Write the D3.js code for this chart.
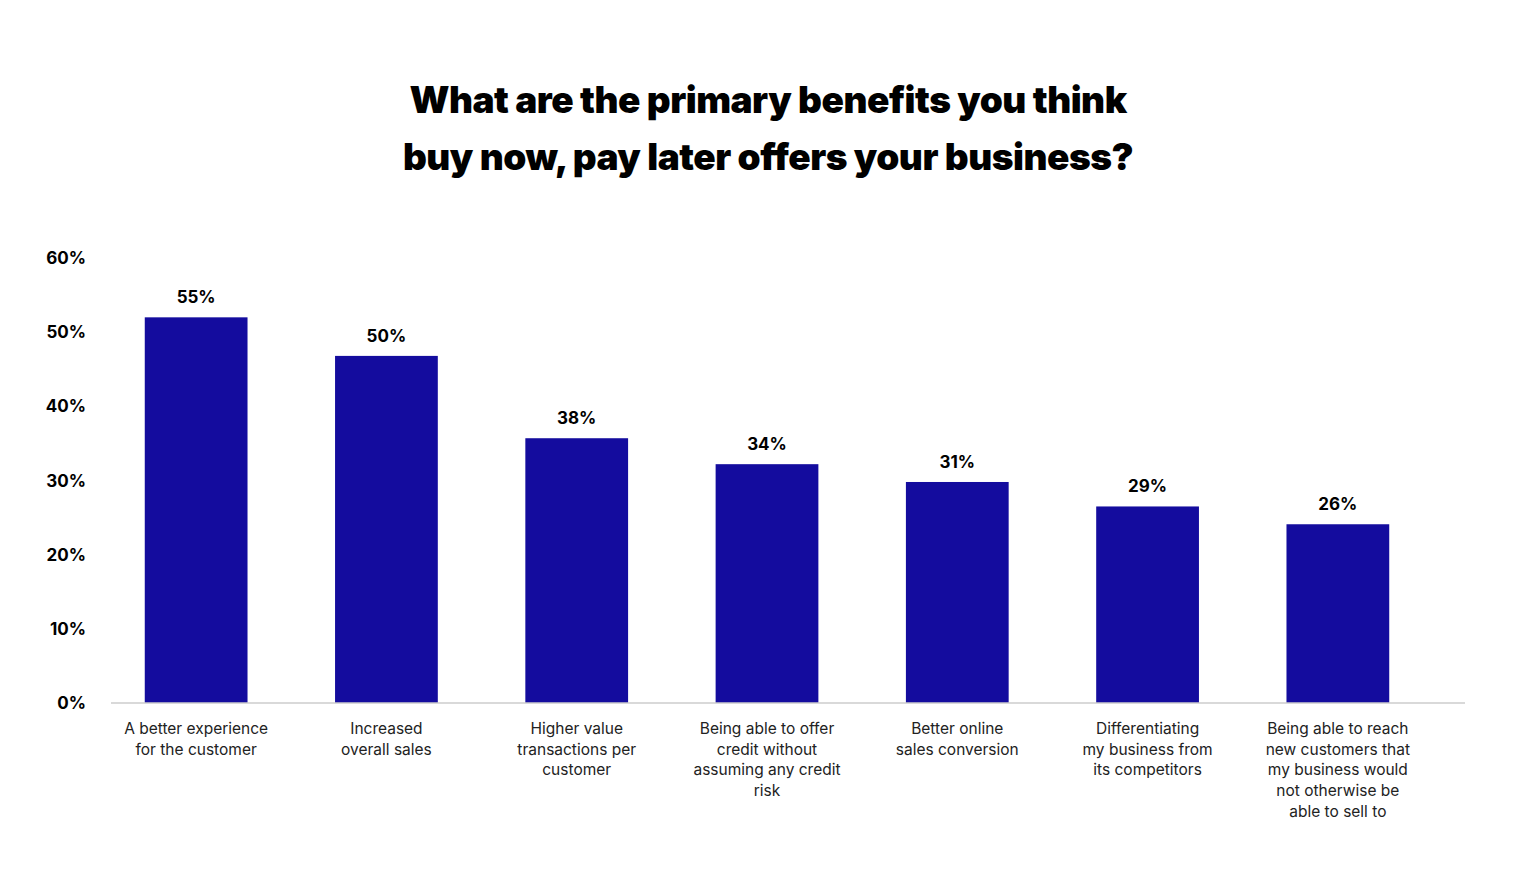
<!DOCTYPE html>
<html><head><meta charset="utf-8">
<script src="https://cdn.jsdelivr.net/npm/d3@7"></script>
<style>body{margin:0;background:#fff;font-family:Inter,"Open Sans",sans-serif}</style>
</head><body><svg id="c" width="1536" height="879"></svg>
<script>
const categories = [
  ["A better experience","for the customer"],
  ["Increased","overall sales"],
  ["Higher value","transactions per","customer"],
  ["Being able to offer","credit without","assuming any credit","risk"],
  ["Better online","sales conversion"],
  ["Differentiating","my business from","its competitors"],
  ["Being able to reach","new customers that","my business would","not otherwise be","able to sell to"]
];
const labels = ["55%","50%","38%","34%","31%","29%","26%"];
const barHeights = [52.0, 46.8, 35.7, 32.2, 29.8, 26.5, 24.1];
const yTicks = [0,10,20,30,40,50,60];

const svg = d3.select("#c");
const x = d3.scaleBand().domain(d3.range(categories.length)).range([101,1433]).paddingInner(0.46).paddingOuter(0.23);
const y = d3.scaleLinear().domain([0,60]).range([703,258]);

svg.append("text").attr("x",768).attr("text-anchor","middle").attr("font-size",37).attr("font-weight",900)
  .attr("font-family","Inter, sans-serif").attr("letter-spacing","-0.5")
  .selectAll("tspan").data(["What are the primary benefits you think","buy now, pay later offers your business?"])
  .join("tspan").attr("x",768).attr("y",(d,i)=>113+i*57).text(d=>d);

svg.append("g").selectAll("text").data(yTicks).join("text")
  .attr("x",86).attr("y",d=>y(d)+6).attr("text-anchor","end").attr("font-size",17).attr("font-weight",700)
  .text(d=>d+"%");

svg.append("g").selectAll("rect").data(barHeights).join("rect")
  .attr("x",(d,i)=>x(i)).attr("width",x.bandwidth()).attr("y",d=>y(d)).attr("height",d=>703-y(d)).attr("fill","#140c9e");

svg.append("line").attr("x1",111).attr("x2",1465).attr("y1",703).attr("y2",703).attr("stroke","#ccc").attr("stroke-width",1.5);

svg.append("g").selectAll("text").data(labels).join("text")
  .attr("x",(d,i)=>x(i)+x.bandwidth()/2).attr("y",(d,i)=>y(barHeights[i])-14)
  .attr("text-anchor","middle").attr("font-size",17).attr("font-weight",700).text(d=>d);

const g = svg.append("g");
categories.forEach((lines,i)=>{
  g.append("text").attr("text-anchor","middle").attr("font-size",15.5).attr("fill","#222")
   .selectAll("tspan").data(lines).join("tspan")
   .attr("x",x(i)+x.bandwidth()/2).attr("y",(d,j)=>734+j*20.7).text(d=>d);
});
</script></body></html>
